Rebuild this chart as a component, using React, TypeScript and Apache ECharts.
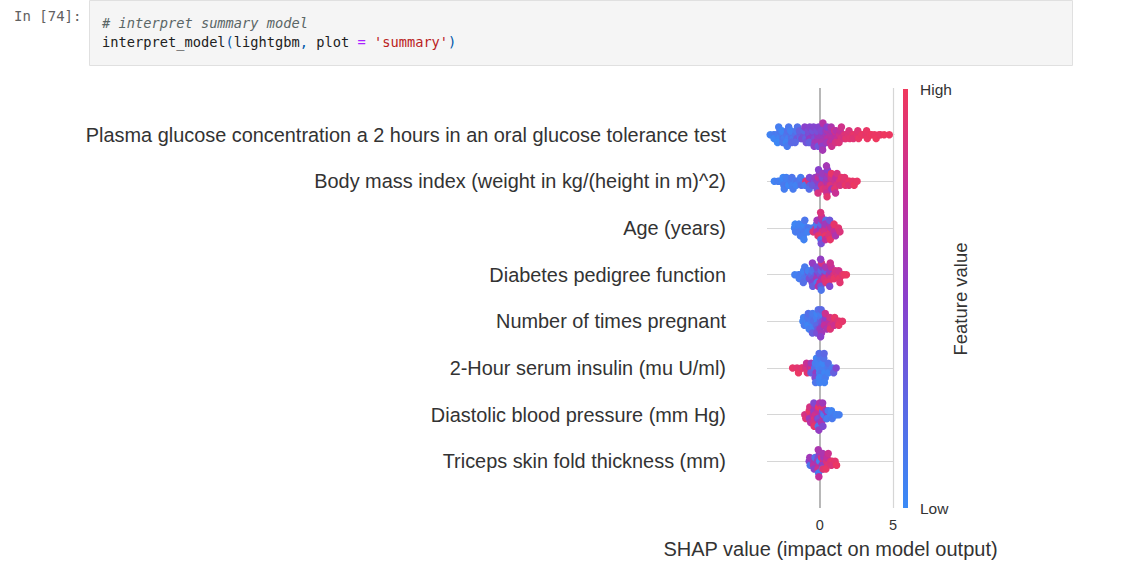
import React, { useEffect, useRef } from 'react';
import * as echarts from 'echarts';

const features = [
  'Plasma glucose concentration a 2 hours in an oral glucose tolerance test',
  'Body mass index (weight in kg/(height in m)^2)',
  'Age (years)',
  'Diabetes pedigree function',
  'Number of times pregnant',
  '2-Hour serum insulin (mu U/ml)',
  'Diastolic blood pressure (mm Hg)',
  'Triceps skin fold thickness (mm)',
];
const xTickValues = [0, 5];
const xAxisTitle = 'SHAP value (impact on model output)';
const colorbarTitle = 'Feature value';
const colorbarHigh = 'High';
const colorbarLow = 'Low';

// [SHAP value, normalised feature value]
const glucose = [
  [-3.38, .05], [-3.15, .08], [-3.05, .12], [-3.12, .03], [-2.85, .1], [-2.78, .06], [-2.72, .15], [-2.88, .02], [-2.8, .09],
  [-2.55, .12], [-2.45, .07], [-2.5, .18], [-2.58, .04], [-2.42, .1], [-2.52, .14],
  [-2.25, .16], [-2.15, .09], [-2.2, .2], [-2.28, .05], [-2.12, .13], [-2.22, .11],
  [-1.95, .18], [-1.85, .12], [-1.9, .22], [-1.98, .08], [-1.82, .15], [-1.92, .25],
  [-1.65, .2], [-1.55, .35], [-1.6, .14], [-1.68, .24], [-1.52, .18],
  [-1.35, .28], [-1.25, .38], [-1.3, .22], [-1.38, .3], [-1.22, .42],
  [-1.05, .4], [-.95, .3], [-1.0, .45], [-1.08, .25], [-.92, .38], [-1.02, .5],
  [-.75, .45], [-.65, .35], [-.7, .5], [-.78, .42], [-.62, .55], [-.72, .3], [-.68, .48],
  [-.45, .5], [-.35, .42], [-.4, .55], [-.48, .38], [-.32, .6], [-.42, .47], [-.38, .52],
  [-.15, .52], [-.05, .45], [-.1, .58], [-.18, .4], [-.02, .55], [-.12, .62], [-.08, .48], [-.1, .35],
  [.15, .55], [.25, .6], [.2, .48], [.12, .65], [.28, .58], [.18, .52], [.22, .7], [.1, .45], [.2, .62],
  [.45, .62], [.55, .58], [.5, .68], [.42, .55], [.58, .72], [.48, .6], [.52, .65], [.5, .5],
  [.75, .68], [.85, .72], [.8, .62], [.72, .75], [.88, .7], [.78, .66], [.82, .8],
  [1.05, .72], [1.15, .78], [1.1, .68], [1.02, .82], [1.18, .75], [1.08, .85], [1.12, .7],
  [1.35, .8], [1.45, .85], [1.4, .75], [1.32, .88], [1.48, .82],
  [1.65, .85], [1.75, .9], [1.7, .82], [1.78, .92],
  [1.95, .9], [2.05, .92], [2.0, .88], [2.25, .92], [2.35, .95], [2.3, .9],
  [2.55, .93], [2.65, .96], [2.6, .91], [2.85, .95], [2.95, .97],
  [3.15, .94], [3.25, .97], [3.2, .96], [3.45, .96], [3.55, .98], [3.75, .97], [3.85, .99],
  [4.05, .98], [4.15, .96], [4.4, .99], [4.75, .98],
];
const bmi = [
  [-3.1, .05], [-2.85, .1], [-2.75, .08],
  [-2.55, .06], [-2.45, .12], [-2.5, .03], [-2.42, .09],
  [-2.25, .1], [-2.15, .05], [-2.2, .14], [-2.28, .08], [-2.12, .02],
  [-1.95, .12], [-1.85, .07], [-1.9, .15], [-1.82, .1],
  [-1.65, .1], [-1.55, .16], [-1.6, .06], [-1.35, .14], [-1.25, .2], [-1.3, .1],
  [-1.05, .18], [-.95, .9], [-1.0, .12],
  [-.75, .85], [-.65, .3], [-.7, .45], [-.72, .2],
  [-.45, .5], [-.35, .42], [-.4, .8], [-.48, .35], [-.32, .55],
  [-.15, .55], [-.05, .48], [-.1, .75], [-.18, .4], [-.02, .62], [-.12, .85], [-.08, .5],
  [.15, .6], [.25, .7], [.2, .52], [.12, .8], [.28, .65], [.18, .45], [.22, .9], [.2, .58],
  [.45, .65], [.55, .72], [.5, .58], [.42, .85], [.58, .68], [.48, .78], [.52, .5], [.5, .92], [.46, .62],
  [.75, .7], [.85, .78], [.8, .65], [.72, .88], [.88, .74], [.78, .82], [.82, .6], [.8, .95],
  [1.05, .8], [1.15, .88], [1.1, .75], [1.02, .92], [1.18, .85], [1.08, .78],
  [1.35, .88], [1.45, .92], [1.4, .85], [1.48, .95],
  [1.65, .9], [1.75, .95], [1.7, .92], [1.95, .93], [2.05, .97], [2.0, .9],
  [2.25, .95], [2.35, .98], [2.55, .96],
];
const age = [
  [-1.72, .05], [-1.65, .1], [-1.68, .03],
  [-1.45, .08], [-1.35, .04], [-1.4, .12], [-1.42, .06], [-1.32, .1],
  [-1.15, .07], [-1.05, .11], [-1.1, .03], [-1.12, .09], [-1.02, .14], [-1.08, .05],
  [-.85, .1], [-.75, .15], [-.8, .06], [-.5, .12], [-.45, .9],
  [-.25, .85], [-.15, .2], [-.2, .7], [-.22, .15], [-.12, .92], [-.18, .6],
  [.05, .5], [.15, .85], [.1, .25], [.02, .95], [.18, .65], [.08, .18], [.12, .78], [.1, .4], [.06, .88],
  [.35, .7], [.45, .9], [.4, .3], [.32, .82], [.48, .55], [.38, .95], [.42, .22], [.4, .75], [.36, .6],
  [.65, .8], [.75, .92], [.7, .6], [.62, .88], [.78, .7], [.68, .35], [.72, .95],
  [.95, .85], [1.05, .9], [1.0, .75], [.98, .95], [1.08, .65], [1.28, .92], [1.38, .88],
];
const pedigree = [
  [-1.7, .08], [-1.45, .05], [-1.35, .12], [-1.4, .1],
  [-1.15, .1], [-1.05, .15], [-1.1, .06], [-1.12, .2], [-1.02, .12],
  [-.85, .18], [-.75, .3], [-.8, .12], [-.82, .25], [-.72, .4], [-.78, .08],
  [-.55, .25], [-.45, .35], [-.5, .15], [-.52, .45], [-.42, .2], [-.48, .3], [-.5, .55],
  [-.25, .3], [-.15, .5], [-.2, .2], [-.22, .6], [-.12, .35], [-.18, .15], [-.2, .45], [-.1, .7],
  [.05, .4], [.15, .6], [.1, .25], [.02, .75], [.18, .5], [.08, .35], [.12, .85], [.1, .15], [.06, .55],
  [.35, .55], [.45, .75], [.4, .4], [.32, .85], [.48, .6], [.38, .3], [.42, .9], [.4, .65],
  [.65, .7], [.75, .85], [.7, .55], [.62, .92], [.78, .75], [.68, .45], [.72, .8],
  [.95, .8], [1.05, .9], [1.0, .7], [.98, .95], [1.08, .85],
  [1.25, .88], [1.35, .95], [1.3, .82], [1.38, .92], [1.55, .9], [1.65, .96], [1.82, .97],
];
const pregnant = [
  [-1.15, .05], [-1.05, .1], [-1.1, .08],
  [-.85, .06], [-.75, .12], [-.8, .03], [-.82, .15], [-.72, .09], [-.78, .2],
  [-.55, .1], [-.45, .05], [-.5, .15], [-.52, .08], [-.42, .2], [-.48, .12], [-.5, .3],
  [-.25, .15], [-.15, .08], [-.2, .25], [-.22, .1], [-.12, .35], [-.18, .05], [-.2, .4], [-.1, .2],
  [.05, .3], [.15, .45], [.1, .15], [.02, .55], [.18, .38], [.08, .1], [.12, .6], [.1, .25], [.06, .5],
  [.35, .6], [.45, .7], [.4, .5], [.32, .75], [.48, .65], [.38, .8],
  [.65, .7], [.75, .8], [.7, .85], [.72, .9],
  [.95, .85], [1.05, .9], [1.0, .8], [1.02, .95], [1.25, .88], [1.35, .92], [1.3, .96], [1.55, .94],
];
const insulin = [
  [-1.85, .95], [-1.55, .92], [-1.45, .97], [-1.25, .9], [-1.15, .94],
  [-.95, .85], [-.85, .92], [-.9, .78],
  [-.65, .7], [-.55, .85], [-.6, .3], [-.58, .6],
  [-.35, .2], [-.25, .55], [-.3, .1], [-.32, .45], [-.22, .05], [-.28, .15],
  [-.05, .05], [.05, .1], [0, .02], [-.08, .08], [.08, .15], [-.02, .04], [.02, .12], [0, .06], [-.04, .2],
  [.25, .08], [.35, .04], [.3, .12], [.22, .03], [.38, .1], [.28, .18], [.32, .06], [.3, .25],
  [.55, .1], [.65, .15], [.6, .05], [.58, .2], [.85, .12], [.95, .3], [1.12, .45],
];
const diastolic = [
  [-1.02, .85], [-.95, .9],
  [-.75, .8], [-.65, .9], [-.7, .6], [-.72, .95], [-.62, .7], [-.68, .85],
  [-.45, .75], [-.35, .9], [-.4, .55], [-.42, .85], [-.32, .65], [-.38, .95], [-.4, .45], [-.3, .8],
  [-.15, .6], [-.05, .85], [-.1, .4], [-.12, .75], [-.02, .5], [-.08, .95], [-.1, .15], [0, .7], [-.06, .55],
  [.15, .5], [.25, .8], [.2, .3], [.12, .65], [.28, .1], [.18, .9], [.22, .45], [.2, .6],
  [.45, .2], [.55, .45], [.5, .1], [.42, .6], [.58, .15],
  [.75, .08], [.85, .12], [.8, .05], [1.05, .1], [1.15, .06], [1.32, .08],
];
const triceps = [
  [-.72, .5], [-.65, .15], [-.68, .6],
  [-.45, .55], [-.35, .65], [-.4, .4], [-.42, .7], [-.32, .2], [-.38, .5],
  [-.15, .6], [-.05, .7], [-.1, .45], [-.12, .8], [-.02, .55], [-.08, .1], [-.1, .65], [0, .05], [-.06, .75],
  [.15, .7], [.25, .8], [.2, .55], [.12, .85], [.28, .6], [.18, .1], [.22, .9], [.2, .65],
  [.45, .85], [.55, .9], [.5, .75], [.42, .95], [.58, .8],
  [.75, .9], [.85, .95], [.8, .88], [1.05, .93], [1.15, .97],
];
const featurePoints = [glucose, bmi, age, pedigree, pregnant, insulin, diastolic, triceps];

const colorStops = ['#3a8af6', '#5c68e4', '#8a40cc', '#c32f9c', '#f0385c'];
const FONT = '"Liberation Sans", Arial, Helvetica, sans-serif';
const MONO = '"DejaVu Sans Mono", monospace';

// SHAP-style beeswarm stacking: quantise SHAP values into bins, stack points within a bin
function beeswarm(points: number[][], row: number, binWidth = 0.2, rowHeight = 0.46) {
  const xs = points.map((p) => p[0]);
  const min = Math.min(...xs);
  const quant = xs.map((x) => Math.round((x - min) / binWidth));
  const inds = xs.map((_, i) => i).sort((a, b) => quant[a] - quant[b] || a - b);
  const ys = new Array(xs.length).fill(0);
  let layer = 0;
  let last = -1;
  for (const i of inds) {
    if (quant[i] !== last) layer = 0;
    ys[i] = Math.ceil(layer / 2) * ((layer % 2) * 2 - 1);
    layer += 1;
    last = quant[i];
  }
  const maxY = Math.max(...ys.map((y) => y + 1));
  const s = (0.9 * rowHeight) / maxY;
  return points.map((p, i) => [p[0], row + ys[i] * s, p[1]]);
}

export default function App() {
  const ref = useRef<HTMLDivElement>(null);
  useEffect(() => {
    if (!ref.current) return;
    const chart = echarts.init(ref.current, null, { renderer: 'svg' });
    const scatterData: number[][] = [];
    featurePoints.forEach((pts, row) => {
      beeswarm(pts, row).forEach((d) => scatterData.push(d));
    });
    const gridLine = { color: '#d6d6d6', width: 1.2, type: 'solid' };
    const option: any = {
      animation: false,
      backgroundColor: '#ffffff',
      grid: { left: 767, top: 88, width: 127, height: 420 },
      xAxis: {
        type: 'value',
        min: -3.6,
        max: 5.07,
        axisLine: { show: true, lineStyle: { color: '#cccccc', width: 1.2 } },
        axisTick: { show: false },
        splitLine: { show: false },
        axisLabel: {
          customValues: xTickValues,
          fontSize: 14.5,
          color: '#333333',
          fontFamily: FONT,
          margin: 9,
        },
        name: xAxisTitle,
        nameLocation: 'middle',
        nameGap: 31,
        nameTextStyle: { fontSize: 20, color: '#333333', fontFamily: FONT },
      },
      yAxis: {
        type: 'value',
        inverse: true,
        min: -1,
        max: 8,
        interval: 1,
        axisLine: { show: false },
        axisTick: { show: false },
        splitLine: { show: false },
        axisLabel: {
          formatter: (v: number) => features[Math.round(v)] ?? '',
          fontSize: 19.9,
          color: '#333333',
          fontFamily: FONT,
          margin: 41,
        },
      },
      visualMap: {
        show: false,
        type: 'continuous',
        dimension: 2,
        min: 0,
        max: 1,
        seriesIndex: 1,
        inRange: { color: colorStops },
      },
      series: [
        {
          type: 'line',
          data: [],
          z: 1,
          markLine: {
            silent: true,
            z: 1,
            symbol: 'none',
            label: { show: false },
            data: [
              ...features.map((_, i) => ({ yAxis: i, lineStyle: gridLine })),
              { xAxis: 5, lineStyle: gridLine },
              { xAxis: 0, lineStyle: { color: '#a6a6a6', width: 1.6, type: 'solid' } },
            ],
          },
        },
        {
          type: 'scatter',
          z: 10,
          symbolSize: 7.5,
          itemStyle: { opacity: 1 },
          data: scatterData,
        },
      ],
      graphic: [
        {
          type: 'rect',
          shape: { x: 89.5, y: 0.5, width: 983, height: 65 },
          style: { fill: '#f5f5f5', stroke: '#e0e0e0', lineWidth: 1 },
        },
        {
          type: 'text',
          x: 14,
          y: 16,
          style: { text: 'In [74]:', font: `14px ${MONO}`, fill: '#616161', verticalAlign: 'middle' },
        },
        {
          type: 'text',
          x: 102,
          y: 22.5,
          style: { text: '# interpret summary model', font: `italic 13.7px ${MONO}`, fill: '#5a6666', verticalAlign: 'middle' },
        },
        {
          type: 'text',
          x: 102,
          y: 41.5,
          style: {
            text: "{v|interpret_model}{p|(}{v|lightgbm}{p|,}{v| plot }{o|=}{v| }{s|'summary'}{p|)}",
            font: `13.7px ${MONO}`,
            verticalAlign: 'middle',
            rich: {
              v: { fill: '#212121', font: `13.7px ${MONO}` },
              p: { fill: '#0055aa', font: `13.7px ${MONO}` },
              o: { fill: '#aa22ff', font: `13.7px ${MONO}` },
              s: { fill: '#ba2121', font: `13.7px ${MONO}` },
            },
          },
        },
        {
          type: 'rect',
          shape: { x: 903, y: 89, width: 5, height: 419 },
          style: {
            fill: new echarts.graphic.LinearGradient(0, 0, 0, 1, [
              { offset: 0, color: colorStops[4] },
              { offset: 0.25, color: colorStops[3] },
              { offset: 0.5, color: colorStops[2] },
              { offset: 0.75, color: colorStops[1] },
              { offset: 1, color: colorStops[0] },
            ]),
          },
        },
        {
          type: 'text',
          x: 920,
          y: 89.5,
          style: { text: colorbarHigh, font: `15.5px ${FONT}`, fill: '#333333', verticalAlign: 'middle' },
        },
        {
          type: 'text',
          x: 920,
          y: 508,
          style: { text: colorbarLow, font: `15.5px ${FONT}`, fill: '#333333', verticalAlign: 'middle' },
        },
        {
          type: 'text',
          x: 960,
          y: 299,
          rotation: Math.PI / 2,
          style: {
            text: colorbarTitle,
            font: `18.5px ${FONT}`,
            fill: '#333333',
            align: 'center',
            verticalAlign: 'middle',
          },
        },
      ],
    };
    chart.setOption(option);
    return () => chart.dispose();
  }, []);
  return (
    <div
      ref={ref}
      style={{ position: 'absolute', left: 0, top: 0, width: 1126, height: 570, background: '#fff' }}
    />
  );
}
